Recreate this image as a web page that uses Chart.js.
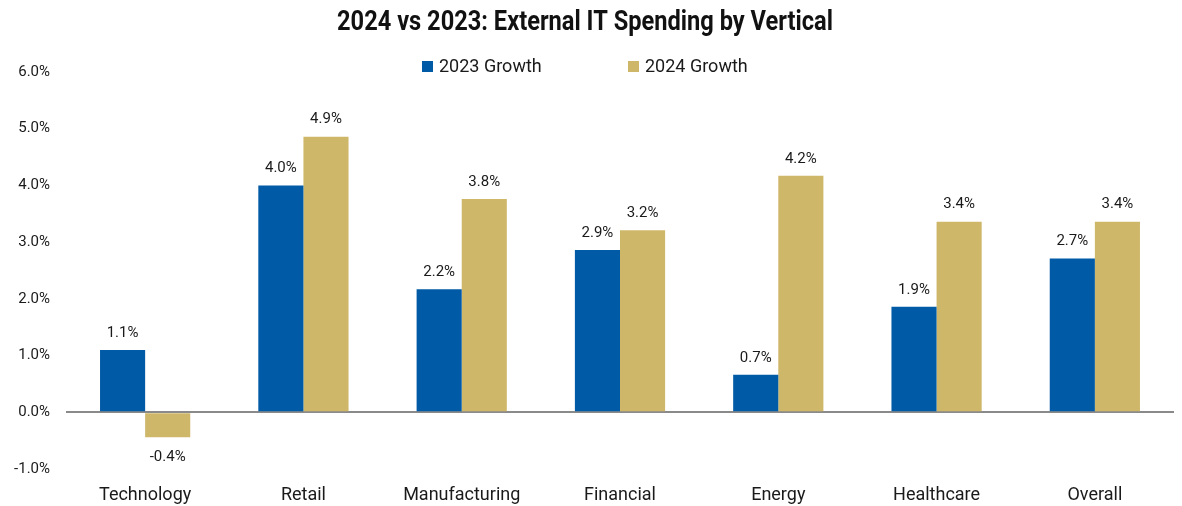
<!DOCTYPE html>
<html>
<head>
<meta charset="utf-8">
<script src="https://cdn.jsdelivr.net/npm/chart.js@4.4.1/dist/chart.umd.min.js"></script>
<style>
  html, body { margin: 0; padding: 0; background: #ffffff; }
  canvas { display: block; }
</style>
</head>
<body>
<canvas id="chart" width="1182" height="506"></canvas>
<script>
// Growth of external IT spending, percent, by vertical
const categories = ['Technology', 'Retail', 'Manufacturing', 'Financial', 'Energy', 'Healthcare', 'Overall'];
const growth2023 = [1.10, 4.00, 2.17, 2.86, 0.66, 1.86, 2.71];
const growth2024 = [-0.44, 4.86, 3.76, 3.21, 4.17, 3.36, 3.36];
const seriesNames = ['2023 Growth', '2024 Growth'];
const seriesColors = ['#005AA5', '#CFB76A'];
const yTickValues = [-1, 0, 1, 2, 3, 4, 5, 6];
const chartTitle = '2024 vs 2023: External IT Spending by Vertical';

const FONT = 'Roboto, "Open Sans", sans-serif';
const pct = v => v.toFixed(1) + '%';

// Bold, horizontally condensed heading
const titlePlugin = {
  id: 'condensedTitle',
  afterDraw(chart) {
    const ctx = chart.ctx;
    ctx.save();
    ctx.font = 'bold 27px ' + FONT;
    ctx.fillStyle = '#111111';
    ctx.textAlign = 'center';
    ctx.textBaseline = 'middle';
    ctx.translate(585, 23);
    ctx.scale(0.875, 1);
    ctx.fillText(chartTitle, 0, 0);
    ctx.restore();
  }
};

// Legend row with wide spacing between the two entries
const legendPlugin = {
  id: 'spacedLegend',
  afterDraw(chart) {
    const ctx = chart.ctx;
    const starts = [422, 628];
    ctx.save();
    ctx.font = '18px ' + FONT;
    ctx.textBaseline = 'middle';
    ctx.textAlign = 'left';
    chart.data.datasets.forEach((ds, i) => {
      const x = starts[i];
      ctx.fillStyle = ds.backgroundColor;
      ctx.fillRect(x, 61, 11, 11);
      ctx.fillStyle = '#1a1a1a';
      ctx.fillText(ds.label, x + 17, 67);
    });
    ctx.restore();
  }
};

// Value labels above positive bars and below negative ones
const valueLabelPlugin = {
  id: 'valueLabels',
  afterDatasetsDraw(chart) {
    const ctx = chart.ctx;
    ctx.save();
    ctx.font = '15px ' + FONT;
    ctx.fillStyle = '#1a1a1a';
    ctx.textAlign = 'center';
    ctx.textBaseline = 'middle';
    chart.data.datasets.forEach((ds, di) => {
      const meta = chart.getDatasetMeta(di);
      meta.data.forEach((bar, i) => {
        const v = ds.data[i];
        const y = v >= 0 ? bar.y - 17 : bar.y + 20;
        ctx.fillText(pct(v), bar.x, y);
      });
    });
    ctx.restore();
  }
};

new Chart(document.getElementById('chart'), {
  type: 'bar',
  data: {
    labels: categories,
    datasets: [
      { label: seriesNames[0], data: growth2023, backgroundColor: seriesColors[0] },
      { label: seriesNames[1], data: growth2024, backgroundColor: seriesColors[1] }
    ]
  },
  options: {
    responsive: false,
    animation: false,
    layout: { padding: { top: 72, left: 14, right: 8, bottom: 0 } },
    datasets: { bar: { categoryPercentage: 0.57, barPercentage: 1.0 } },
    plugins: {
      legend: { display: false },
      title: { display: false },
      tooltip: { enabled: false }
    },
    scales: {
      x: {
        grid: { display: false, drawTicks: false },
        border: { display: false },
        ticks: { font: { family: FONT, size: 18 }, color: '#1a1a1a', padding: 16 },
        afterFit: axis => { axis.height = 37; }
      },
      y: {
        min: yTickValues[0],
        max: yTickValues[yTickValues.length - 1],
        afterBuildTicks: axis => { axis.ticks = yTickValues.map(v => ({ value: v })); },
        afterFit: axis => { axis.width = 52; },
        border: { display: false },
        grid: {
          drawTicks: false,
          color: c => (c.tick && c.tick.value === 0 ? '#8a8a8a' : 'rgba(0,0,0,0)'),
          lineWidth: c => (c.tick && c.tick.value === 0 ? 2 : 0)
        },
        ticks: {
          font: { family: FONT, size: 15 },
          color: '#1a1a1a',
          padding: 16,
          callback: v => pct(v)
        }
      }
    }
  },
  plugins: [titlePlugin, legendPlugin, valueLabelPlugin]
});
</script>
</body>
</html>
